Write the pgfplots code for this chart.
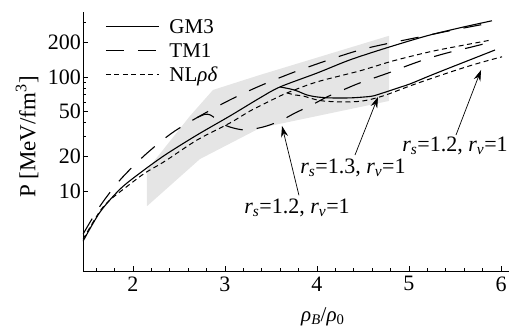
\documentclass[border=0pt]{standalone}
\usepackage{fontspec}
\setmainfont{Liberation Serif}
\usepackage{pgfplots}
\pgfplotsset{compat=1.18}
\usetikzlibrary{arrows.meta}
\newcommand{\fs}{\fontsize{21}{25}\selectfont}
\newcommand{\ft}{\fontsize{22}{26}\selectfont}
\newcommand{\fy}{\fontsize{23}{27}\selectfont}
\begin{document}
\begin{tikzpicture}
\path[use as bounding box] (-83pt,-58pt) rectangle (439pt,271pt);
\begin{axis}[
  at={(0pt,0pt)}, anchor=south west,
  scale only axis, width=426pt, height=259pt,
  xmin=1.457, xmax=6.087, ymin=2, ymax=370, ymode=log,
  axis x line=bottom, axis y line=left,
  axis line style={-, line width=0.8pt},
  xtick={2,3,4,5,6}, xticklabels={2,3,4,5,6},
  minor xtick={1.6,1.8,2.2,2.4,2.6,2.8,3.2,3.4,3.6,3.8,4.2,4.4,4.6,4.8,5.2,5.4,5.6,5.8},
  ytick={10,20,50,100,200}, yticklabels={10,20,50,100,200},
  minor ytick={30,40,60,70,80,90,300},
  tick align=inside, major tick length=5pt, minor tick length=3pt,
  tick style={line width=0.6pt, black},
  xticklabel style={font=\ft, yshift=-2pt},
  yticklabel style={font=\ft, xshift=1.5pt},
  ylabel={P [MeV/fm\textsuperscript{3}]},
  ylabel style={font=\fy, at={(axis description cs:-0.131,0.517)}, anchor=center},
  xlabel={\textit{ρ}\textsubscript{\textit{B}}/\textit{ρ}\textsubscript{0}},
  xlabel style={font=\fs, at={(axis description cs:0.563,-0.178)}, anchor=center},
  legend image code/.code={\draw[#1] (0pt,0pt) -- (53pt,0pt);},
  legend cell align=left,
  legend style={at={(axis description cs:0.052,0.975)}, anchor=north west, draw=none, fill=none,
    inner sep=0pt, row sep=9pt, font=\fs,
    nodes={inner sep=0pt, text height=15pt, text depth=0pt},
    /tikz/every odd column/.append style={column sep=10pt}},
  clip=true,
]
% flow constraint region
\addplot[fill=black!10, draw=none, forget plot] coordinates {
 (2.152,7.38) (2.152,15.3) (2.620,45.5) (2.870,76.9) (3.380,104) (4.783,229)
 (4.783,61.6) (3.380,35.7) (2.728,19.1)} -- cycle;

% GM3 main
\addplot[black, line width=1.1pt, smooth] coordinates {
 (1.457,3.64) (1.641,6.54) (1.859,10.4) (2.076,14.4) (2.348,20.7) (2.696,31.0)
 (3.054,45.5) (3.380,65.5) (3.598,81.7) (4.000,108) (4.359,141) (4.761,180)
 (5.196,229) (5.554,269) (5.902,310)};
\addlegendentry{GM3}
% TM1 main
\addplot[black, line width=1.1pt, dash pattern=on 18pt off 14pt, smooth] coordinates {
 (1.457,4.20) (1.641,7.38) (1.859,12.5) (2.130,20.7) (2.424,32.3) (2.728,45.5)
 (3.054,62.9) (3.380,83.4) (3.815,115) (4.467,172) (5.120,224) (5.554,264) (5.902,298)};
\addlegendentry{TM1}
% NLrhodelta main
\addplot[black, line width=1.0pt, dash pattern=on 5pt off 3.5pt, smooth] coordinates {
 (1.457,3.79) (1.641,6.68) (1.761,8.51) (1.967,11.5) (2.130,14.4) (2.348,18.3)
 (2.696,28.0) (3.054,39.5) (3.272,50.3) (3.489,61.6) (3.674,72.4) (4.000,90.4)
 (4.467,113) (4.826,138) (5.228,166) (5.554,187) (5.902,211)};
\addlegendentry{NL\textit{ρδ}}

% TM1 rs=1.2 branch
\addplot[black, line width=1.1pt, dash pattern=on 18pt off 14pt, smooth, forget plot] coordinates {
 (2.70,44.1) (2.78,47.0) (2.84,46.5) (2.90,43.0) (2.97,39.0) (3.054,36.4)
 (3.217,34.3) (3.413,36.4) (3.598,41.1) (3.761,48.3) (3.924,55.7) (4.109,66.8)
 (4.283,76.9) (4.467,88.6) (4.772,108) (4.978,125) (5.228,147) (5.5,169)
 (5.685,183) (5.902,203)};
% GM3 rs=1.3 branch
\addplot[black, line width=1.1pt, smooth, forget plot] coordinates {
 (3.598,81.7) (3.707,78.5) (3.783,75.4) (3.891,69.5) (4.000,66.8) (4.141,65.5)
 (4.359,65.5) (4.522,66.8) (4.609,68.1) (4.717,72.4) (4.848,78.5) (5.011,86.8)
 (5.196,100) (5.413,117.5) (5.663,141) (5.935,172)};
% NLrhodelta rs=1.2 branch
\addplot[black, line width=1.0pt, dash pattern=on 5pt off 3.5pt, smooth, forget plot] coordinates {
 (3.674,72.4) (3.761,69.5) (3.848,68.1) (3.957,64.2) (4.065,61.6) (4.283,60.3)
 (4.5,61.6) (4.717,68.1) (5.011,83.4) (5.228,96.0) (5.554,117.5) (5.772,133) (6.011,150)};

% annotations
\draw[-{Stealth[length=11pt,width=7pt]}, line width=0.7pt] (axis cs:3.804,9.2) -- (axis cs:3.620,37.2);
\draw[-{Stealth[length=11pt,width=7pt]}, line width=0.7pt] (axis cs:4.413,20.7) -- (axis cs:4.663,66.8);
\draw[-{Stealth[length=11pt,width=7pt]}, line width=0.7pt] (axis cs:5.511,31.0) -- (axis cs:5.783,115);
\node[font=\ft] at (axis cs:3.783,7.1) {\textit{r}\textsubscript{\textit{s}}=1.2, \textit{r}\textsubscript{\textit{v}}=1};
\node[font=\ft] at (axis cs:4.391,15.9) {\textit{r}\textsubscript{\textit{s}}=1.3, \textit{r}\textsubscript{\textit{v}}=1};
\node[font=\ft] at (axis cs:5.5,24.8) {\textit{r}\textsubscript{\textit{s}}=1.2, \textit{r}\textsubscript{\textit{v}}=1};
\end{axis}
\end{tikzpicture}
\end{document}
